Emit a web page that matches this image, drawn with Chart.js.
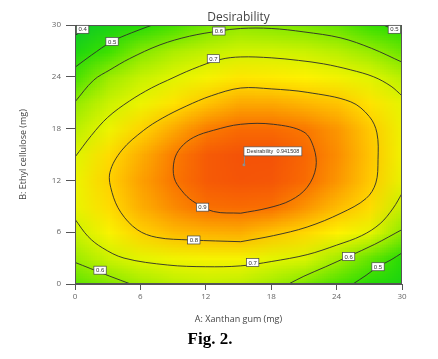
<!DOCTYPE html>
<html>
<head>
<meta charset="utf-8">
<script src="https://cdn.jsdelivr.net/npm/chart.js@4.4.1/dist/chart.umd.min.js"></script>
<style>
html, body { margin: 0; padding: 0; background: #fff; }
canvas { display: block; }
</style>
</head>
<body>
<canvas id="myChart" width="438" height="359"></canvas>
<script>
// grid nodes (mg)
const xGum = [0, 3, 6, 9, 12, 15, 18, 21, 24, 27, 30];
const yCellulose = [0, 3, 6, 9, 12, 15, 18, 21, 24, 27, 30];

// desirability, one row per yCellulose value (bottom -> top)
const desirY0  = [0.55, 0.58, 0.615, 0.645, 0.66, 0.65, 0.615, 0.575, 0.53, 0.48, 0.44];
const desirY3  = [0.61, 0.67, 0.705, 0.725, 0.735, 0.735, 0.705, 0.69, 0.62, 0.555, 0.48];
const desirY6  = [0.67, 0.74, 0.795, 0.82, 0.83, 0.835, 0.81, 0.785, 0.75, 0.71, 0.59];
const desirY9  = [0.715, 0.78, 0.835, 0.875, 0.905, 0.91, 0.905, 0.865, 0.82, 0.78, 0.66];
const desirY12 = [0.72, 0.795, 0.85, 0.897, 0.93, 0.937, 0.935, 0.91, 0.86, 0.805, 0.71];
const desirY15 = [0.697, 0.78, 0.835, 0.89, 0.93, 0.94, 0.94, 0.915, 0.87, 0.81, 0.725];
const desirY18 = [0.65, 0.72, 0.79, 0.84, 0.89, 0.91, 0.91, 0.895, 0.86, 0.805, 0.72];
const desirY21 = [0.60, 0.67, 0.72, 0.77, 0.81, 0.84, 0.84, 0.825, 0.81, 0.77, 0.705];
const desirY24 = [0.53, 0.61, 0.665, 0.70, 0.735, 0.765, 0.76, 0.75, 0.73, 0.70, 0.645];
const desirY27 = [0.45, 0.52, 0.585, 0.63, 0.66, 0.68, 0.68, 0.67, 0.645, 0.605, 0.56];
const desirY30 = [0.37, 0.43, 0.48, 0.525, 0.57, 0.595, 0.585, 0.575, 0.555, 0.515, 0.48];
const desirRows = [desirY0, desirY3, desirY6, desirY9, desirY12, desirY15, desirY18, desirY21, desirY24, desirY27, desirY30];

// contour lines [x, y]
const c04 = [[0, 28.8], [0.8, 29.4], [1.4, 30]];
const c05TopLeft = [[0, 25.1], [1.5, 26.5], [3.4, 28.1], [5.2, 29.1], [7.1, 30]];
const c05TopRight = [[28.3, 30], [29.2, 29.5], [30, 29.0]];
const c05BottomRight = [[25.5, 0], [26.7, 1.0], [27.8, 2.0], [29, 2.8], [30, 3.6]];
const c06Top = [[0, 21.1], [1.7, 23.6], [3.2, 24.8], [5, 26.1], [7.8, 27.7], [10.5, 28.7], [13.2, 29.3], [15.2, 29.6], [18, 29.6], [21, 29.2], [24.4, 28.5], [27.2, 27.3], [30, 25.7]];
const c06BottomLeft = [[0, 2.5], [1.4, 1.8], [3.2, 0.9], [5.1, 0]];
const c06BottomRight = [[19.6, 0], [21, 0.9], [23, 2.0], [25.1, 3.2], [27.5, 4.6], [30, 6.3]];
const c07Top = [[0, 14.7], [1.5, 17.2], [3, 19.3], [5, 21.2], [7, 22.7], [8.5, 23.6], [10.8, 24.9], [13.3, 26.0], [15.2, 26.3], [18, 26.2], [20.5, 25.9], [22.8, 25.5], [25.3, 24.8], [27.4, 24.0], [29, 22.9], [30, 21.8]];
const c07Bottom = [[0, 7.5], [1.2, 5.5], [2.5, 4.2], [4.5, 3.0], [8.5, 2.2], [12, 2.0], [15.2, 2.1], [18, 2.6], [21.3, 3.4], [24, 4.5], [26.3, 5.6], [28, 7], [29.2, 8.8], [30, 10.5]];
const c08 = [[15.2, 4.9], [18.2, 5.6], [21.3, 6.6], [24.4, 8.2], [26.7, 9.9], [27.6, 11.7], [27.8, 14.4], [27.7, 17.5], [27.0, 19.4], [25.3, 21.1], [21.3, 22.2], [18, 22.6], [15.2, 22.7], [12.5, 21.8], [10.2, 20.6], [8, 19.2], [6.3, 17.8], [4.3, 15.5], [3.2, 12.9], [3.4, 10.6], [4.2, 8.3], [5.7, 6.3], [7.5, 5.4], [10.6, 5.1], [15.2, 4.9]];
const c09 = [[15.2, 8.2], [17.7, 8.8], [19.8, 9.7], [21.3, 11.2], [22.1, 13.5], [21.9, 15.8], [21, 17.6], [18.2, 18.5], [15.2, 18.5], [12.7, 17.8], [10.9, 17.0], [9.7, 15.8], [9.1, 14.3], [9.1, 12.3], [9.8, 10.8], [10.8, 9.6], [12.7, 8.4], [15.2, 8.2]];
const contours = [c04, c05TopLeft, c05TopRight, c05BottomRight, c06Top, c06BottomLeft, c06BottomRight, c07Top, c07Bottom, c08, c09];

// contour labels
const labelText = ['0.4', '0.5', '0.6', '0.7', '0.5', '0.9', '0.8', '0.7', '0.6', '0.5', '0.6'];
const labelX = [0.7, 3.4, 13.2, 12.7, 29.3, 11.7, 10.9, 16.3, 25.1, 27.8, 2.3];
const labelY = [29.5, 28.1, 29.3, 26.1, 29.5, 8.9, 5.1, 2.5, 3.2, 2.0, 1.6];

const optimum = { x: 15.5, y: 13.8, value: 0.941508 };

// colour scale
const stops = [
    [0.30, [0, 185, 80]],
    [0.40, [20, 205, 30]],
    [0.50, [40, 222, 0]],
    [0.60, [150, 235, 0]],
    [0.70, [225, 245, 0]],
    [0.75, [255, 242, 0]],
    [0.80, [255, 205, 0]],
    [0.90, [250, 115, 0]],
    [0.95, [243, 75, 10]],
    [1.00, [235, 35, 0]]
];

function colorFor(v) {
    if (v <= stops[0][0]) return stops[0][1];
    for (let i = 1; i < stops.length; i++) {
        if (v <= stops[i][0]) {
            const a = stops[i - 1], b = stops[i];
            const t = (v - a[0]) / (b[0] - a[0]);
            return [0, 1, 2].map(k => Math.round(a[1][k] + (b[1][k] - a[1][k]) * t));
        }
    }
    return stops[stops.length - 1][1];
}

let heatImage = null;
function buildHeat() {
    const c = document.createElement('canvas');
    c.width = xGum.length;
    c.height = yCellulose.length;
    const g = c.getContext('2d');
    const img = g.createImageData(c.width, c.height);
    for (let j = 0; j < yCellulose.length; j++) {
        const row = desirRows[yCellulose.length - 1 - j];
        for (let i = 0; i < xGum.length; i++) {
            const col = colorFor(row[i]);
            const p = (j * c.width + i) * 4;
            img.data[p] = col[0];
            img.data[p + 1] = col[1];
            img.data[p + 2] = col[2];
            img.data[p + 3] = 255;
        }
    }
    g.putImageData(img, 0, 0);
    return c;
}

const heatPlugin = {
    id: 'heat',
    beforeDatasetsDraw(chart) {
        const { ctx, chartArea, scales } = chart;
        if (!heatImage) heatImage = buildHeat();
        const half = (xGum[1] - xGum[0]) / 2;
        const x0 = scales.x.getPixelForValue(xGum[0] - half);
        const x1 = scales.x.getPixelForValue(xGum[xGum.length - 1] + half);
        const y0 = scales.y.getPixelForValue(yCellulose[yCellulose.length - 1] + half);
        const y1 = scales.y.getPixelForValue(yCellulose[0] - half);
        ctx.save();
        ctx.beginPath();
        ctx.rect(chartArea.left, chartArea.top, chartArea.right - chartArea.left, chartArea.bottom - chartArea.top);
        ctx.clip();
        ctx.imageSmoothingEnabled = true;
        ctx.drawImage(heatImage, x0, y0, x1 - x0, y1 - y0);
        ctx.restore();
    },
    afterDatasetsDraw(chart) {
        const { ctx, chartArea, scales } = chart;
        ctx.save();
        // frame
        ctx.strokeStyle = '#555';
        ctx.lineWidth = 1;
        ctx.strokeRect(chartArea.left + 0.5, chartArea.top + 0.5, chartArea.right - chartArea.left - 1, chartArea.bottom - chartArea.top - 1);

        // contour labels
        ctx.font = '6px "Liberation Sans", Arial, sans-serif';
        ctx.textAlign = 'center';
        ctx.textBaseline = 'middle';
        for (let i = 0; i < labelText.length; i++) {
            const px = scales.x.getPixelForValue(labelX[i]);
            const py = scales.y.getPixelForValue(labelY[i]);
            const w = ctx.measureText(labelText[i]).width + 4;
            ctx.fillStyle = '#fff';
            ctx.fillRect(px - w / 2, py - 4, w, 8);
            ctx.strokeStyle = '#444';
            ctx.lineWidth = 0.7;
            ctx.strokeRect(px - w / 2, py - 4, w, 8);
            ctx.fillStyle = '#333';
            ctx.fillText(labelText[i], px, py + 0.5);
        }

        // optimum flag
        const ox = scales.x.getPixelForValue(optimum.x);
        const oy = scales.y.getPixelForValue(optimum.y);
        const txt = 'Desirability  ' + optimum.value.toFixed(6);
        ctx.font = '5.5px "Liberation Sans", Arial, sans-serif';
        ctx.textAlign = 'left';
        const tw = ctx.measureText(txt).width + 5;
        ctx.strokeStyle = '#888';
        ctx.lineWidth = 1;
        ctx.beginPath();
        ctx.moveTo(ox + 0.5, oy);
        ctx.lineTo(ox + 0.5, oy - 9);
        ctx.stroke();
        ctx.fillStyle = '#fff';
        ctx.fillRect(ox, oy - 18, tw, 9);
        ctx.strokeStyle = '#555';
        ctx.lineWidth = 0.7;
        ctx.strokeRect(ox, oy - 18, tw, 9);
        ctx.fillStyle = '#333';
        ctx.fillText(txt, ox + 2.5, oy - 13.3);
        ctx.restore();
    }
};

const datasets = contours.map(pts => ({
    type: 'line',
    data: pts.map(p => ({ x: p[0], y: p[1] })),
    borderColor: '#2b2b2b',
    borderWidth: 0.9,
    pointRadius: 0,
    tension: 0.35,
    fill: false
}));
datasets.push({
    type: 'scatter',
    data: [{ x: optimum.x, y: optimum.y }],
    pointStyle: 'rect',
    pointRadius: 1.5,
    backgroundColor: '#999',
    borderColor: '#888',
    borderWidth: 0.5
});

const tickFont = { size: 8, family: '"Open Sans", sans-serif' };

const ctx = document.getElementById('myChart');
const chart = new Chart(ctx, {
    type: 'line',
    data: { datasets: datasets },
    plugins: [heatPlugin],
    options: {
        responsive: false,
        animation: false,
        layout: { padding: { left: 18, right: 36, top: 0, bottom: 0 } },
        plugins: {
            legend: { display: false },
            tooltip: { enabled: false },
            title: {
                display: true,
                text: 'Desirability',
                fullSize: false,
                color: '#444',
                font: { size: 12, weight: 'normal', family: '"Open Sans", sans-serif' },
                padding: { top: 10, bottom: 0.6 }
            },
            subtitle: {
                display: true,
                position: 'bottom',
                text: 'Fig. 2.',
                color: '#000',
                font: { size: 17, weight: 'bold', family: '"Liberation Serif", "Times New Roman", serif' },
                padding: { top: 0, bottom: 9 }
            }
        },
        scales: {
            x: {
                type: 'linear',
                min: 0,
                max: 30,
                ticks: { stepSize: 6, color: '#666', font: tickFont, padding: 2 },
                grid: { drawOnChartArea: false, tickLength: 6, color: '#555' },
                border: { color: '#555' },
                title: {
                    display: true,
                    text: 'A: Xanthan gum (mg)',
                    color: '#444',
                    font: { size: 9, family: '"Open Sans", sans-serif' },
                    padding: { top: 0, bottom: 5 }
                },
                afterFit(scale) { scale.height = 45.6; }
            },
            y: {
                type: 'linear',
                min: 0,
                max: 30,
                ticks: { stepSize: 6, color: '#666', font: tickFont, padding: 5 },
                grid: { drawOnChartArea: false, tickLength: 9, color: '#555' },
                border: { color: '#555' },
                title: {
                    display: true,
                    text: 'B: Ethyl cellulose (mg)',
                    color: '#444',
                    font: { size: 9, family: '"Open Sans", sans-serif' },
                    padding: { top: 0, bottom: 0 }
                },
                afterFit(scale) { scale.width = 57; }
            }
        }
    }
});
</script>
</body>
</html>
